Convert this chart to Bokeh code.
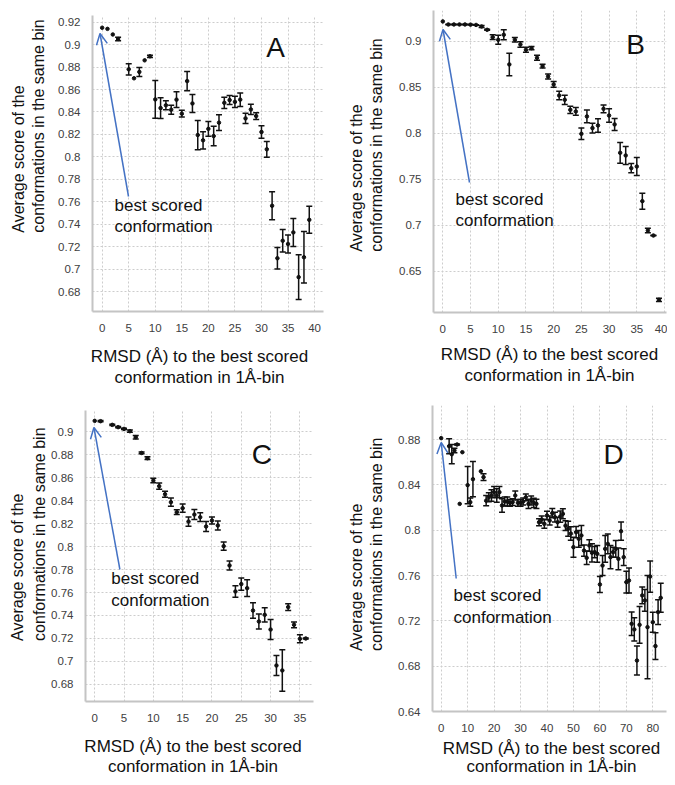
import numpy as np
from bokeh.plotting import figure
from bokeh.models import (ColumnDataSource, Whisker, TeeHead, Arrow, OpenHead,
                          Label, FixedTicker, Range1d)
from bokeh.core.properties import value
from bokeh.layouts import column, row
from bokeh.embed import file_html
from bokeh.resources import INLINE

FONT = "Liberation Sans"
BLUE = "#4472C4"
INK = "#111111"

# ---------------- data ----------------
A_x = [0, 1, 2, 3, 5, 6, 7, 8, 9, 10, 11, 12, 13, 14, 15, 16, 17, 18, 19, 20, 21, 22,
       23, 24, 25, 26, 27, 28, 29, 30, 31, 32, 33, 34, 35, 36, 37, 38, 39]
A_y = [0.915, 0.914, 0.909, 0.905, 0.878, 0.870, 0.8757, 0.886, 0.8896, 0.8512, 0.8435,
       0.846, 0.842, 0.851, 0.8385, 0.8675, 0.8476, 0.8195, 0.8148, 0.825, 0.8186, 0.8305,
       0.8482, 0.8506, 0.849, 0.851, 0.8343, 0.8423, 0.8364, 0.8222, 0.8068, 0.7565,
       0.7098, 0.7254, 0.7225, 0.7328, 0.693, 0.7107, 0.744]
A_err = [0, 0, 0, 0.0015, 0.005, 0, 0.004, 0, 0.001, 0.0168, 0.0092, 0.004, 0.004, 0.007,
         0.003, 0.0085, 0.008, 0.013, 0.0077, 0.0065, 0.0086, 0.007, 0.005, 0.004, 0.005,
         0.006, 0.0045, 0.0045, 0.003, 0.0055, 0.007, 0.0125, 0.0096, 0.01, 0.008, 0.0125,
         0.020, 0.023, 0.012]

B_x = list(range(0, 40))
B_y = [0.9218, 0.9185, 0.9185, 0.9185, 0.9185, 0.9183, 0.918, 0.9163, 0.9127, 0.9047,
       0.9018, 0.9073, 0.875, 0.9018, 0.8967, 0.8909, 0.8927, 0.8822, 0.8731, 0.8619,
       0.8532, 0.8412, 0.8365, 0.8256, 0.8238, 0.7995, 0.8184, 0.8057, 0.8086, 0.8267,
       0.8194, 0.8097, 0.7788, 0.7759, 0.7621, 0.7639, 0.7262, 0.6943, 0.6888, 0.6188]
B_err = [0, 0.0003, 0.0003, 0.0003, 0.0003, 0.0003, 0.0003, 0.001, 0.0005, 0.0025,
         0.0049, 0.0054, 0.0122, 0.0024, 0.0031, 0.0027, 0.0018, 0.0027, 0.002, 0.0027,
         0.0031, 0.0047, 0.005, 0.004, 0.0042, 0.0063, 0.0069, 0.0054, 0.0073, 0.0042,
         0.0073, 0.0065, 0.0113, 0.0098, 0.0051, 0.0098, 0.0087, 0.0025, 0.0004, 0.0018]

C_x = [0, 1, 3, 4, 5, 6, 7, 8, 9, 10, 11, 12, 13, 14, 15, 16, 17, 18, 19, 20, 21, 22,
       23, 24, 25, 26, 27, 28, 29, 30, 31, 32, 33, 34, 35, 36]
C_y = [0.9093, 0.909, 0.9058, 0.9038, 0.9023, 0.9003, 0.8951, 0.8814, 0.8768, 0.8574,
       0.8525, 0.8455, 0.8386, 0.8299, 0.8333, 0.8217, 0.8278, 0.8255, 0.8174, 0.8226,
       0.8183, 0.8003, 0.7835, 0.7609, 0.7673, 0.7638, 0.7443, 0.7348, 0.7406, 0.7278,
       0.6965, 0.6922, 0.7473, 0.7319, 0.7197, 0.720]
C_err = [0, 0.0005, 0.0005, 0.0005, 0.0005, 0.001, 0.0015, 0.0008, 0.0012, 0.002,
         0.0028, 0.0026, 0.0035, 0.002, 0.0036, 0.004, 0.0043, 0.0038, 0.0043, 0.003,
         0.004, 0.0036, 0.004, 0.005, 0.0054, 0.0072, 0.0068, 0.0065, 0.0062, 0.0087,
         0.0087, 0.018, 0.003, 0.0025, 0.0035, 0.0005]

D_x = [0, 3, 4, 5, 6, 7, 8, 10, 11, 12, 15, 16] + list(range(17, 84))
D_y = [0.8812, 0.8741, 0.867, 0.8703, 0.8756, 0.8232, 0.8688, 0.8397, 0.8247, 0.845,
       0.852, 0.8468,
       0.826, 0.829, 0.8306, 0.8335, 0.8306, 0.8335, 0.8218, 0.8253, 0.8253, 0.8241,
       0.8247, 0.8306, 0.8241, 0.8241, 0.8253, 0.829, 0.8232, 0.8262, 0.8241, 0.8232,
       0.807, 0.8094, 0.8056, 0.8129, 0.8085, 0.815, 0.8115, 0.807, 0.812, 0.8144,
       0.804, 0.8012, 0.797, 0.785, 0.7982, 0.7924, 0.7953, 0.782, 0.7756, 0.7865,
       0.780, 0.7806, 0.7791, 0.7521, 0.7688, 0.7835, 0.7879, 0.7762, 0.7806, 0.7835,
       0.7747, 0.7991, 0.7762, 0.7541, 0.7556, 0.7174, 0.7124, 0.685, 0.7165, 0.7424,
       0.738, 0.7144, 0.7591, 0.7188, 0.6977, 0.7277, 0.7403]
D_err = [0, 0.0066, 0.0085, 0.002, 0.0005, 0, 0, 0.0165, 0.0037, 0.0155, 0, 0.003,
         0.0045, 0.004, 0.005, 0.005, 0.006, 0.005, 0.006, 0.004, 0.004, 0.003,
         0.003, 0.004, 0.003, 0.003, 0.003, 0.003, 0.004, 0.004, 0.004, 0.004,
         0.003, 0.003, 0.004, 0.0038, 0.004, 0.0041, 0.0044, 0.0044, 0.005, 0.0044,
         0.0044, 0.0066, 0.006, 0.0088, 0.005, 0.0074, 0.0088, 0.005, 0.006, 0.005,
         0.008, 0.005, 0.0074, 0.007, 0.0088, 0.0118, 0.0088, 0.0103, 0.0044, 0.0074,
         0.0096, 0.008, 0.0074, 0.0096, 0.011, 0.0103, 0.0103, 0.0129, 0.0162, 0.0074,
         0.0096, 0.0456, 0.0138, 0.0088, 0.0118, 0.011, 0.0128]

A_xticks = [0, 5, 10, 15, 20, 25, 30, 35, 40]
A_yticks = [0.68, 0.70, 0.72, 0.74, 0.76, 0.78, 0.80, 0.82, 0.84, 0.86, 0.88, 0.90, 0.92]
A_ylabels = ["0.68", "0.7", "0.72", "0.74", "0.76", "0.78", "0.8", "0.82", "0.84",
             "0.86", "0.88", "0.9", "0.92"]
B_xticks = [0, 5, 10, 15, 20, 25, 30, 35, 40]
B_yticks = [0.65, 0.70, 0.75, 0.80, 0.85, 0.90]
B_ylabels = ["0.65", "0.7", "0.75", "0.8", "0.85", "0.9"]
C_xticks = [0, 5, 10, 15, 20, 25, 30, 35]
C_yticks = [0.68, 0.70, 0.72, 0.74, 0.76, 0.78, 0.80, 0.82, 0.84, 0.86, 0.88, 0.90]
C_ylabels = ["0.68", "0.7", "0.72", "0.74", "0.76", "0.78", "0.8", "0.82", "0.84",
             "0.86", "0.88", "0.9"]
D_xticks = [0, 10, 20, 30, 40, 50, 60, 70, 80]
D_yticks = [0.64, 0.68, 0.72, 0.76, 0.80, 0.84, 0.88]
D_ylabels = ["0.64", "0.68", "0.72", "0.76", "0.8", "0.84", "0.88"]

X_TITLE = ["RMSD (Å) to the best scored", "conformation in 1Å-bin"]
Y_TITLE = ["Average  score of  the", "conformations  in  the same bin"]
NOTE = ["best scored", "conformation"]

# ---------------- geometry of each panel (picture pixels) ----------------
# col: (left, top, width, height) of the panel block; ytw: width of the y-title strip;
# mh: height of the main figure; frame: (L, T, R, B) of the data frame.
panels = [
    dict(letter="A", x=A_x, y=A_y, err=A_err, xt=A_xticks, yt=A_yticks, yl=A_ylabels,
         col=(0, 0, 340, 392), ytw=54, mh=338, frame=(92, 15, 323, 311),
         xr=(-1.82, 41.68), yr=(0.6624, 0.9259),
         letter_pos=(275, 47), ytitle=(17.5, 38, 248), xtitle=(199, 356, 377),
         note=(114, 205, 226), arrow=((128, 196), (99.5, 33))),
    dict(letter="B", x=B_x, y=B_y, err=B_err, xt=B_xticks, yt=B_yticks, yl=B_ylabels,
         col=(340, 0, 327, 392), ytw=50, mh=338, frame=(433, 10, 666, 312),
         xr=(-1.68, 40.36), yr=(0.605, 0.9337),
         letter_pos=(635, 44), ytitle=(356, 376, 270), xtitle=(549, 354, 375),
         note=(455, 199, 220), arrow=((469, 182), (442.5, 29))),
    dict(letter="C", x=C_x, y=C_y, err=C_err, xt=C_xticks, yt=C_yticks, yl=C_ylabels,
         col=(0, 392, 340, 385), ytw=48, mh=336, frame=(83, 410, 313, 701),
         xr=(-1.57, 37.32), yr=(0.6652, 0.9183),
         letter_pos=(261, 454), ytitle=(17, 39, 658), xtitle=(192.5, 746, 766),
         note=(109, 578, 600), arrow=((117.7, 569), (91.5, 427))),
    dict(letter="D", x=D_x, y=D_y, err=D_err, xt=D_xticks, yt=D_yticks, yl=D_ylabels,
         col=(340, 392, 327, 385), ytw=50, mh=344, frame=(432, 405, 666, 711),
         xr=(-3.29, 85.18), yr=(0.64, 0.91),
         letter_pos=(613, 454), ytitle=(356, 376, 668), xtitle=(551, 748, 766),
         note=(453, 595, 617), arrow=((455.7, 578), (440.7, 442))),
]


def blank_fig(w, h):
    f = figure(width=w, height=h, x_range=Range1d(0, w), y_range=Range1d(0, h),
               output_backend="svg", toolbar_location=None,
               x_axis_type=None, y_axis_type=None,
               min_border_left=0, min_border_right=0, min_border_top=0, min_border_bottom=0)
    f.grid.visible = False
    f.outline_line_color = None
    f.background_fill_color = "white"
    f.border_fill_color = "white"
    return f


def make_panel(P):
    cx0, cy0, CW, CH = P["col"]
    ytw, mh = P["ytw"], P["mh"]
    ox, oy = cx0 + ytw, cy0
    W, H = CW - ytw, mh
    L, T, R, B = P["frame"]
    x0, x1 = P["xr"]
    y0, y1 = P["yr"]

    def dx(px):
        return x0 + (px - L) / (R - L) * (x1 - x0)

    def dy(py):
        return y1 - (py - T) / (B - T) * (y1 - y0)

    p = figure(width=W, height=H, x_range=Range1d(x0, x1), y_range=Range1d(y0, y1),
               output_backend="svg", toolbar_location=None,
               min_border_left=L - ox, min_border_right=ox + W - R,
               min_border_top=T - oy, min_border_bottom=oy + H - B)
    p.outline_line_color = None
    p.background_fill_color = "white"
    p.border_fill_color = "white"

    p.xaxis.ticker = FixedTicker(ticks=P["xt"])
    p.yaxis.ticker = FixedTicker(ticks=P["yt"])
    p.yaxis.major_label_overrides = dict(zip(P["yt"], P["yl"]))
    for ax in (p.xaxis[0], p.yaxis[0]):
        ax.axis_line_color = "#c4c4c4"
        ax.axis_line_width = 2
        ax.major_tick_line_color = None
        ax.minor_tick_line_color = None
        ax.major_label_text_font = FONT
        ax.major_label_text_font_size = "11.5px"
        ax.major_label_text_color = "#404040"
        ax.major_label_standoff = 6
    for g in (p.xgrid[0], p.ygrid[0]):
        g.grid_line_color = "#cdcdcd"
        g.grid_line_dash = "2 2"
        g.grid_line_width = 1

    # error bars (only where an error exists)
    wx, wlo, whi = [], [], []
    for xv, yv, ev in zip(P["x"], P["y"], P["err"]):
        if ev > 0:
            wx.append(xv)
            wlo.append(yv - ev)
            whi.append(yv + ev)
    wsrc = ColumnDataSource(dict(x=wx, lo=wlo, hi=whi))
    p.add_layout(Whisker(source=wsrc, base="x", lower="lo", upper="hi",
                         line_color=INK, line_width=1.5,
                         upper_head=TeeHead(size=6, line_color=INK, line_width=1.5),
                         lower_head=TeeHead(size=6, line_color=INK, line_width=1.5)))

    src = ColumnDataSource(dict(x=P["x"], y=P["y"]))
    p.scatter("x", "y", source=src, size=3.5, color=INK)

    # arrow to the best scored conformation
    (tx, ty), (hx, hy) = P["arrow"]
    p.add_layout(Arrow(end=OpenHead(size=11, line_color=BLUE, line_width=1.5),
                       x_start=dx(tx), y_start=dy(ty), x_end=dx(hx), y_end=dy(hy),
                       line_color=BLUE, line_width=1.5))

    nx, n1, n2 = P["note"]
    for txt, yy in zip(NOTE, (n1, n2)):
        p.add_layout(Label(x=dx(nx), y=dy(yy), text=txt, text_font=FONT,
                           text_font_size="17px", text_color=INK,
                           text_align="left", text_baseline="middle"))

    lx, ly = P["letter_pos"]
    p.add_layout(Label(x=dx(lx), y=dy(ly), text=P["letter"], text_font=FONT,
                       text_font_size="28px", text_color=INK,
                       text_align="center", text_baseline="middle"))

    # y-title strip (rotated text, both lines start at the same bottom point)
    yt = blank_fig(ytw, mh)
    l1, l2, by = P["ytitle"]
    yt.text(x=[l1 - cx0, l2 - cx0], y=[cy0 + mh - by] * 2, text=Y_TITLE,
            angle=np.pi / 2, text_font=value(FONT), text_font_size=value("16px"),
            text_color=INK, text_align="left", text_baseline="middle")

    # x-title strip
    xh = CH - mh
    xt = blank_fig(CW, xh)
    tcx, t1, t2 = P["xtitle"]
    ybot = cy0 + CH
    xt.text(x=[tcx - cx0] * 2, y=[ybot - t1, ybot - t2], text=X_TITLE,
            text_font=value(FONT), text_font_size=value("17px"),
            text_color=INK, text_align="center", text_baseline="middle")

    return column(row(yt, p), xt)


blocks = [make_panel(P) for P in panels]
layout = column(row(blocks[0], blocks[1]), row(blocks[2], blocks[3]))

open("out.html", "w").write(file_html(layout, INLINE))
